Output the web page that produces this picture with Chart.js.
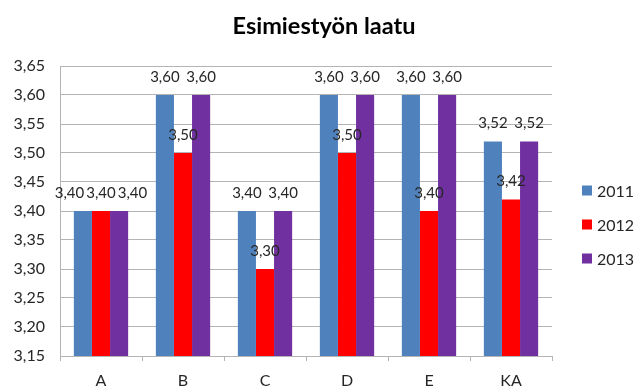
<!DOCTYPE html>
<html>
<head>
<meta charset="utf-8">
<script src="https://cdn.jsdelivr.net/npm/chart.js@4.4.1/dist/chart.umd.min.js"></script>
<style>
  html, body { margin: 0; padding: 0; background: #fff; }
  #c { display: block; }
</style>
</head>
<body>
<canvas id="c" width="635" height="387"></canvas>
<script>
// Categories and yearly scores
const categories = ['A', 'B', 'C', 'D', 'E', 'KA'];
const years = ['2011', '2012', '2013'];
const values2011 = [3.40, 3.60, 3.40, 3.60, 3.60, 3.52];
const values2012 = [3.40, 3.50, 3.30, 3.50, 3.40, 3.42];
const values2013 = [3.40, 3.60, 3.40, 3.60, 3.60, 3.52];
const yTicks = [3.15, 3.20, 3.25, 3.30, 3.35, 3.40, 3.45, 3.50, 3.55, 3.60, 3.65];
const chartTitle = 'Esimiestyön laatu';

const colors = ['#4F81BD', '#FF0000', '#7030A0'];
const FONT = 'Lato, "Liberation Sans", sans-serif';
const TEXT = '#262626';
const GRID = '#B4B4B4';

const fmt = v => v.toFixed(2).replace('.', ',');

// Title, value labels (spread apart when they collide) and a right-hand legend
const decorations = {
  id: 'decorations',
  afterDatasetsDraw(chart) {
    const ctx = chart.ctx;
    ctx.save();
    ctx.font = '15px ' + FONT;
    ctx.fillStyle = TEXT;
    ctx.textAlign = 'center';
    ctx.textBaseline = 'alphabetic';
    const n = chart.data.labels.length;
    for (let j = 0; j < n; j++) {
      const items = chart.data.datasets.map((ds, i) => {
        const bar = chart.getDatasetMeta(i).data[j];
        const text = fmt(ds.data[j]);
        return { text, x: bar.x, y: bar.y - 13, w: ctx.measureText(text).width + 2 };
      });
      // labels sitting on the same level that overlap are laid side by side
      for (let k = 1; k < items.length; k++) {
        const a = items[k - 1], b = items[k];
        if (Math.abs(a.y - b.y) < 12 && b.x - a.x < (a.w + b.w) / 2) {
          const group = items.filter(it => Math.abs(it.y - a.y) < 12);
          const center = group.reduce((s, it) => s + it.x, 0) / group.length;
          const total = group.reduce((s, it) => s + it.w, 0);
          let x = center - total / 2;
          group.forEach(it => { it.x = x + it.w / 2; x += it.w; });
          break;
        }
      }
      items.forEach(it => ctx.fillText(it.text, it.x, it.y));
    }
    // title
    ctx.font = 'bold 23.5px ' + FONT;
    ctx.fillStyle = '#000';
    ctx.fillText(chartTitle, 324, 34);
    // legend
    ctx.font = '16px ' + FONT;
    ctx.textAlign = 'left';
    ctx.textBaseline = 'middle';
    chart.data.datasets.forEach((ds, i) => {
      const y = 190.5 + i * 34;
      ctx.fillStyle = ds.backgroundColor;
      ctx.fillRect(582, y - 5, 10, 10);
      ctx.fillStyle = TEXT;
      ctx.fillText(ds.label, 597, y + 1);
    });
    ctx.restore();
  }
};

new Chart(document.getElementById('c'), {
  type: 'bar',
  data: {
    labels: categories,
    datasets: [
      { label: years[0], data: values2011, backgroundColor: colors[0] },
      { label: years[1], data: values2012, backgroundColor: colors[1] },
      { label: years[2], data: values2013, backgroundColor: colors[2] }
    ]
  },
  options: {
    responsive: false,
    devicePixelRatio: 1,
    animation: false,
    layout: { padding: { top: 66, right: 83, left: 0, bottom: 0 } },
    datasets: {
      bar: { categoryPercentage: 0.662, barPercentage: 1, borderWidth: 0 }
    },
    plugins: {
      legend: { display: false },
      title: { display: false },
      tooltip: { enabled: false }
    },
    scales: {
      x: {
        grid: { display: true, drawOnChartArea: false, drawTicks: true, tickLength: 5, offset: true, color: GRID },
        border: { color: GRID },
        ticks: { font: { family: FONT, size: 16 }, color: TEXT, padding: 10 },
        afterFit(scale) { scale.height = 31; scale.paddingLeft = 0; scale.paddingRight = 0; }
      },
      y: {
        min: yTicks[0],
        max: yTicks[yTicks.length - 1],
        afterBuildTicks(scale) { scale.ticks = yTicks.map(v => ({ value: v })); },
        grid: { color: GRID, drawTicks: false },
        border: { color: GRID },
        ticks: {
          font: { family: FONT, size: 16 },
          color: TEXT,
          padding: 15,
          callback: v => fmt(v)
        },
        afterFit(scale) { scale.width = 60; scale.paddingTop = 0; scale.paddingBottom = 0; }
      }
    }
  },
  plugins: [decorations]
});
</script>
</body>
</html>
